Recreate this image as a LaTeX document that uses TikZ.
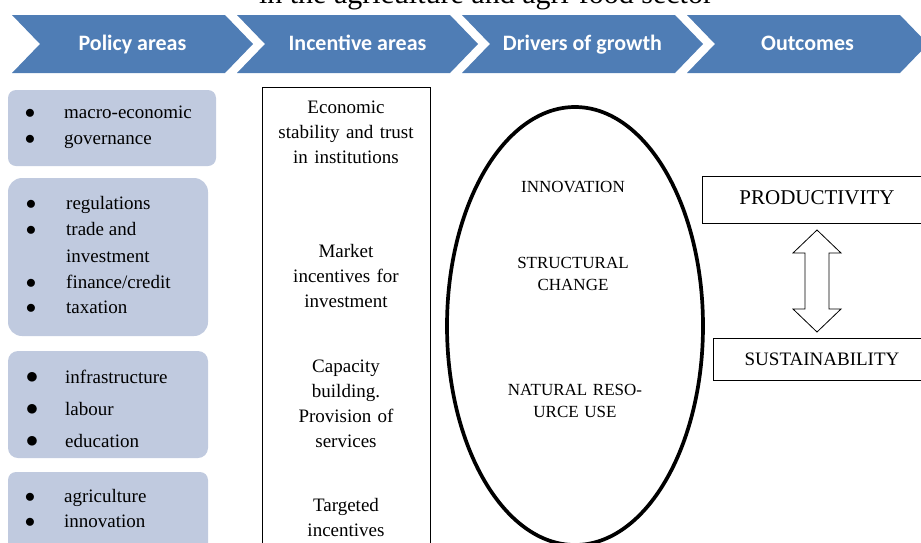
\documentclass[tikz,border=0pt]{standalone}
\usepackage{fontspec}
\setmainfont{Liberation Serif}
\newfontfamily\chevfont{Carlito}
\definecolor{chev}{HTML}{4F7DB5}
\definecolor{pol}{HTML}{C0CADF}
\begin{document}
\begin{tikzpicture}[x=1pt,y=-1pt,
  chevtext/.style={font=\chevfont\bfseries\fontsize{22}{26}\selectfont, text=white, anchor=base, inner sep=0pt},
  item/.style={font=\fontsize{19}{23}\selectfont, anchor=base west, inner sep=0pt},
  bul/.style={font=\fontsize{20}{23}\selectfont, anchor=base, inner sep=0pt},
  bigbul/.style={font=\fontsize{25}{25}\selectfont, anchor=base, inner sep=0pt},
  inc/.style={font=\fontsize{19}{25}\selectfont, align=center, text width=165pt, anchor=base, inner sep=0pt},
  drv/.style={font=\fontsize{17}{22.5}\selectfont, align=center, text width=160pt, anchor=base, inner sep=0pt},
  polbox/.style={fill=pol, draw=none},
  outbox/.style={draw, line width=0.8pt},
  twoarrow/.style={draw, line width=0.8pt, fill=white, line join=miter}
]
\useasboundingbox (0,0) rectangle (921,542);
\clip (0,0) rectangle (921,542);

% title (cut off at the top, as in the reference)
\node[anchor=base, font=\fontsize{30}{34}\selectfont, inner sep=0pt] (title) at (486,3.5) {in the agriculture and agri-food sector};

% chevrons
\foreach \L/\t [count=\i] in {12/Policy areas, 237/Incentive areas, 462/Drivers of growth, 687/Outcomes}{
  \fill[chev] (\L,15) -- ++(213,0) -- ++(28,29) -- ++(-28,29) -- ++(-213,0) -- ++(28,-29) -- cycle;
  \node[chevtext] (h\i) at ({\L+120.5},50) {\t};
}

% policy boxes
\path[polbox, rounded corners=8pt] (8,90) rectangle (216,166);
\path[polbox, rounded corners=14pt] (8,178) rectangle (208,336);
\path[polbox, rounded corners=10pt] (8,351) rectangle (208,458);
\path[polbox, rounded corners=8pt] (8,472) rectangle (208,570);

\node[bul] (b11) at (30,118) {$\bullet$};
\node[item] (p11) at (64,118) {macro-economic};
\node[bul] (b12) at (30,144) {$\bullet$};
\node[item] (p12) at (64,144) {governance};

\node[bul] (b21) at (31,209) {$\bullet$};
\node[item] (p21) at (66,209) {regulations};
\node[bul] (b22) at (31,235) {$\bullet$};
\node[item] (p22) at (66,235) {trade and};
\node[item] (p23) at (66,262) {investment};
\node[bul] (b24) at (31,288) {$\bullet$};
\node[item] (p24) at (66,288) {finance/credit};
\node[bul] (b25) at (31,313) {$\bullet$};
\node[item] (p25) at (66,313) {taxation};

\node[bigbul] (b31) at (32,383) {$\bullet$};
\node[item] (p31) at (65,383) {infrastructure};
\node[bigbul] (b32) at (32,415) {$\bullet$};
\node[item] (p32) at (65,415) {labour};
\node[bigbul] (b33) at (32,447) {$\bullet$};
\node[item] (p33) at (65,447) {education};

\node[bul] (b41) at (30,502) {$\bullet$};
\node[item] (p41) at (64,502) {agriculture};
\node[bul] (b42) at (30,527) {$\bullet$};
\node[item] (p42) at (64,527) {innovation};

% incentive areas
\draw[line width=1pt] (262,87) rectangle (430,570);
\node[inc] (i1) at (346,113) {Economic\\stability and trust\\in institutions};
\node[inc] (i2) at (346,257) {Market\\incentives for\\investment};
\node[inc] (i3) at (346,372) {Capacity\\building.\\Provision of\\services};
\node[inc] (i4) at (346,511) {Targeted\\incentives};

% drivers of growth
\draw[line width=3.7pt] (575,326) ellipse [x radius=128, y radius=219];
\node[drv] (d1) at (573,192) {INNOVATION};
\node[drv] (d2) at (573,268) {STRUCTURAL\\CHANGE};
\node[drv] (d3) at (575,395) {NATURAL RESO-\\URCE USE};

% outcomes
\draw[outbox] (702,176) rectangle (925,223);
\node[anchor=base, font=\fontsize{21}{25}\selectfont, inner sep=0pt] (prod) at (817,204) {PRODUCTIVITY};
\draw[outbox] (713,338) rectangle (925,380);
\node[anchor=base, font=\fontsize{19}{23}\selectfont, inner sep=0pt] (sust) at (822,365) {SUSTAINABILITY};

\coordinate (atop) at (817,230);
\coordinate (abot) at (817,332);
\draw[twoarrow] (atop) -- ++(-24,23) -- ++(12,0) -- ++(0,56) -- ++(-12,0) -- (abot)
  -- ++(24,-23) -- ++(-12,0) -- ++(0,-56) -- ++(12,0) -- cycle;
\end{tikzpicture}
\end{document}
